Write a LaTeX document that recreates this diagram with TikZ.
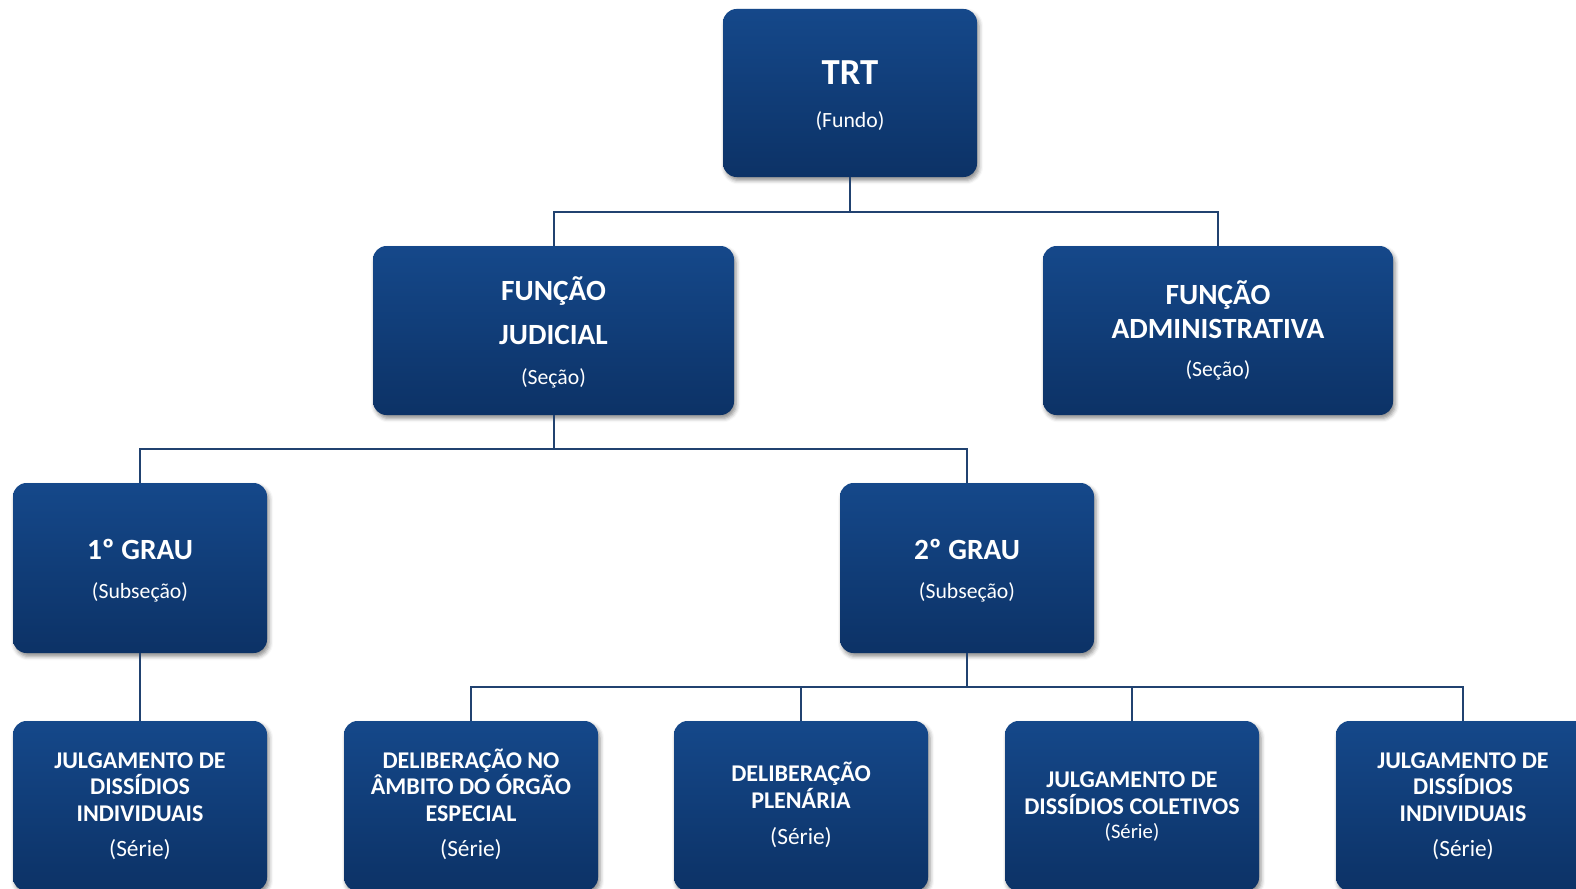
\documentclass[tikz,border=0pt]{standalone}
\usepackage{fontspec}
\setmainfont{Carlito}
\usetikzlibrary{shadows.blur}
\definecolor{boxtop}{RGB}{21,72,138}
\definecolor{boxbot}{RGB}{12,50,102}
\definecolor{conncol}{RGB}{33,66,112}
\tikzset{
  orgbox/.style={rounded corners=13.5*0.75pt, inner sep=0pt, draw=none,
    top color=boxtop, bottom color=boxbot,
    blur shadow={shadow xshift=1.5pt, shadow yshift=-2.5pt, shadow blur radius=3pt, shadow opacity=45}},
  conn/.style={draw=conncol, line width=1.5pt},
  lbl/.style={text=white, inner sep=0pt, anchor=base},
  fTRT/.style={lbl, font=\fontsize{27.5pt}{33pt}\selectfont\bfseries},
  fHead/.style={lbl, font=\fontsize{22pt}{26pt}\selectfont\bfseries},
  fSub/.style={lbl, font=\fontsize{16.3pt}{19pt}\selectfont},
  fLeaf/.style={lbl, font=\fontsize{18pt}{21pt}\selectfont\bfseries},
  fSerie/.style={lbl, font=\fontsize{17.5pt}{21pt}\selectfont},
  fSerieS/.style={lbl, font=\fontsize{15.5pt}{19pt}\selectfont},
}
\begin{document}
\begin{tikzpicture}[x=0.75pt,y=-0.75pt]
\useasboundingbox (0,0) rectangle (1576,888);
\clip (0,0) rectangle (1576,888);
% coordinates of junctions
\coordinate (j1) at (850,212);
\coordinate (j2) at (553.5,449);
\coordinate (j3) at (967,687);
% boxes
\node[orgbox, minimum width={254*0.75pt}, minimum height={168*0.75pt}] (trt) at (850,93) {};
\node[orgbox, minimum width={361*0.75pt}, minimum height={169*0.75pt}] (jud) at (553.5,330.5) {};
\node[orgbox, minimum width={350*0.75pt}, minimum height={169*0.75pt}] (adm) at (1218,330.5) {};
\node[orgbox, minimum width={254*0.75pt}, minimum height={170*0.75pt}] (g1) at (140,568) {};
\node[orgbox, minimum width={254*0.75pt}, minimum height={170*0.75pt}] (g2) at (967,568) {};
\node[orgbox, minimum width={254*0.75pt}, minimum height={170*0.75pt}] (b1) at (140,806) {};
\node[orgbox, minimum width={254*0.75pt}, minimum height={170*0.75pt}] (b2) at (471,806) {};
\node[orgbox, minimum width={254*0.75pt}, minimum height={170*0.75pt}] (b3) at (801,806) {};
\node[orgbox, minimum width={254*0.75pt}, minimum height={170*0.75pt}] (b4) at (1132,806) {};
\node[orgbox, minimum width={254*0.75pt}, minimum height={170*0.75pt}] (b5) at (1463,806) {};
% connectors
\draw[conn] (trt.south) -- (j1);
\draw[conn] (jud.north) -- (jud.north |- j1) -- (adm.north |- j1) -- (adm.north);
\draw[conn] (jud.south) -- (j2);
\draw[conn] (g1.north) -- (g1.north |- j2) -- (g2.north |- j2) -- (g2.north);
\draw[conn] (g1.south) -- (b1.north);
\draw[conn] (g2.south) -- (j3);
\draw[conn] (b2.north) -- (b2.north |- j3) -- (b5.north |- j3) -- (b5.north);
\draw[conn] (b3.north) -- (b3.north |- j3);
\draw[conn] (b4.north) -- (b4.north |- j3);
% texts
\node[fTRT] (trtA) at (850,85) {TRT};
\node[fSub] (trtB) at (850,128) {(Fundo)};
\node[fHead] (judA) at (553.5,300) {FUNÇÃO};
\node[fHead] (judB) at (553.5,344) {JUDICIAL};
\node[fSub] (judC) at (553.5,384) {(Seção)};
\node[fHead] (admA) at (1218,304) {FUNÇÃO};
\node[fHead] (admB) at (1218,338) {ADMINISTRATIVA};
\node[fSub] (admC) at (1218,376) {(Seção)};
\node[fHead] (g1A) at (140,559) {1º GRAU};
\node[fSub] (g1B) at (140,598) {(Subseção)};
\node[fHead] (g2A) at (967,559) {2º GRAU};
\node[fSub] (g2B) at (967,598) {(Subseção)};
\node[fLeaf] (b1A) at (140,768) {JULGAMENTO DE};
\node[fLeaf] (b1B) at (140,794) {DISSÍDIOS};
\node[fLeaf] (b1C) at (140,821) {INDIVIDUAIS};
\node[fSerie] (b1D) at (140,856) {(Série)};
\node[fLeaf] (b2A) at (471,768) {DELIBERAÇÃO NO};
\node[fLeaf] (b2B) at (471,794) {ÂMBITO DO ÓRGÃO};
\node[fLeaf] (b2C) at (471,821) {ESPECIAL};
\node[fSerie] (b2D) at (471,856) {(Série)};
\node[fLeaf] (b3A) at (801,781) {DELIBERAÇÃO};
\node[fLeaf] (b3B) at (801,808) {PLENÁRIA};
\node[fSerie] (b3C) at (801,844) {(Série)};
\node[fLeaf] (b4A) at (1132,787) {JULGAMENTO DE};
\node[fLeaf] (b4B) at (1132,814) {DISSÍDIOS COLETIVOS};
\node[fSerieS] (b4C) at (1132,838) {(Série)};
\node[fLeaf] (b5A) at (1463,768) {JULGAMENTO DE};
\node[fLeaf] (b5B) at (1463,794) {DISSÍDIOS};
\node[fLeaf] (b5C) at (1463,821) {INDIVIDUAIS};
\node[fSerie] (b5D) at (1463,856) {(Série)};
\end{tikzpicture}
\end{document}
